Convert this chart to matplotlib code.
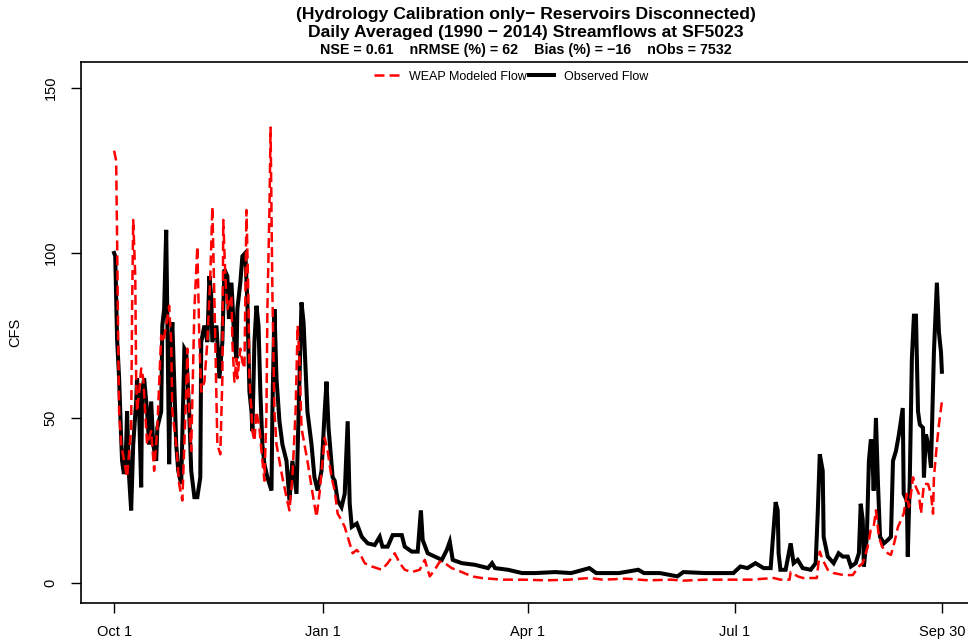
import matplotlib
matplotlib.use("Agg")
import matplotlib.pyplot as plt

plt.rcParams['font.family'] = ['Liberation Sans', 'DejaVu Sans']

# day of water year (0 = Oct 1) and daily averaged flow, CFS
obs_day = [0, 0.5, 1, 1.3, 2.2, 3.1, 3.5, 4.3, 5.3, 5.7, 6.6, 7.5, 8.4, 9.7, 10.1, 11, 11.9, 12.3,
           13.2, 14.5, 15.4, 16.3, 17.2, 18.5, 19, 20.7, 21.2, 22, 22.9, 23.4, 24.2, 25.1, 25.6,
           26.4, 27.3, 28.2, 29.5, 30.9, 31.7, 33, 33.9, 35.3, 36.6, 37.9, 38.3, 39.7, 41, 41.9,
           42.7, 43.2, 45, 46.3, 47.6, 48.5, 49.8, 50.5, 51.6, 52.9, 53.8, 54.2, 55.5, 56.4, 57.7,
           58.6, 59.5, 60.4, 60.8, 61.7, 62.6, 63.5, 64.3, 65.2, 66.1, 67.4, 69.2, 69.6, 70.5,
           71.4, 72.7, 74, 75.8, 77.1, 78.4, 80.2, 81.5, 82.4, 83.3, 84.2, 85, 86.8, 88.1, 89.5,
           91.2, 92.6, 93.4, 94.3, 96.1, 97, 98.3, 100, 101.4, 102.7, 103.6, 104.5, 106.7, 108.9,
           111.5, 114.6, 116.8, 118, 120.3, 122.5, 126.5, 127.8, 130.9, 133.5, 134.9, 135.7, 137.9,
           141, 144.1, 146.3, 147.6, 148.9, 152.9, 158.7, 164.4, 166.2, 167.5, 173.2, 179.4, 185.1,
           193.9, 201, 209, 212, 222, 230.5, 233, 240, 247.7, 250.3, 260, 272.3, 275.4, 278.5, 282,
           285.6, 288.7, 290.9, 291.8, 292.2, 293, 295.3, 297.5, 298.8, 300.6, 302.8, 306.3, 308.5,
           309.4, 310.3, 311.6, 312, 313.8, 315.1, 316.4, 318.6, 320.4, 322.6, 324, 326.1, 327.5,
           328.3, 329.2, 329.7, 331, 331.9, 332.7, 333.2, 334, 335, 335.9, 336.8, 338.5, 340.2,
           341.6, 342.5, 343.8, 345.1, 346.8, 347.2, 348.6, 349, 349.9, 350.8, 351.7, 352.6, 353.5,
           354.3, 355.7, 356.1, 357, 358.3, 359.2, 360.5, 361.8, 362.7, 363.6, 364]
obs_flow = [100, 99, 84, 74, 62, 44, 37, 33, 42, 52, 32, 22, 42, 55, 62, 52, 29, 58,
            62, 52, 42, 55, 42, 37, 47, 52, 78, 83, 107, 81, 36, 73, 79,
            62, 42, 34, 30, 71, 70, 52, 34, 26, 26, 32, 73, 78, 73, 93,
            87, 73, 78, 62, 73, 95, 93, 80, 91, 73, 68, 83, 91, 99, 100,
            85, 58, 52, 46, 73, 84, 78, 58, 42, 36, 32, 28, 52, 83,
            62, 49, 42, 37, 25, 37, 27, 62, 85, 79, 65, 52, 42, 32, 28,
            34, 52, 61, 47, 32, 31, 25, 23, 27, 49, 24, 17, 18, 14,
            12, 11.5, 14, 11, 11, 14.5, 14.5, 11, 9.5, 9.5, 22, 13, 9,
            8, 7, 10, 12.5, 7, 6, 5.5, 4.5, 6, 4.5, 4, 3, 3,
            3.3, 3, 4.5, 3, 3, 4, 3, 3, 2, 3.3, 3, 3, 5, 4.5, 6,
            4.5, 4.5, 24.5, 22, 9, 4, 4, 12, 6, 7, 4.5, 4, 6,
            21, 39, 34, 14, 8, 7, 6, 9, 8, 8, 5, 6, 9,
            24, 19, 5, 14, 37, 43, 43, 28, 50, 30, 14, 12, 13,
            14, 37, 40, 45, 53, 27, 25, 8, 32, 68, 81, 81, 52,
            48, 47, 32, 45, 41, 35, 70, 91, 76, 70, 64]

mod_day = [0, 0.9, 1.3, 1.8, 2.2, 3.1, 4.4, 5.7, 7.5, 7.9, 8.4, 9.3, 9.7, 10.1, 11, 11.9, 12.8,
           14.1, 14.5, 16.3, 17.6, 19, 20.7, 21.6, 22.9, 24.2, 25.1, 25.6, 27.3, 28.6, 30, 31.7,
           32.2, 33, 33.9, 35.3, 36.6, 37.5, 38.3, 39.7, 41, 42.3, 43.2, 44.5, 45.4, 46.7, 47.6,
           48, 48.9, 49.8, 51.6, 52, 52.9, 53.8, 54.2, 55.5, 56.4, 57.3, 58.2, 59, 59.5, 60.4,
           60.8, 61.7, 62.6, 63.9, 65.2, 66.1, 67, 67.4, 68.3, 68.8, 69.2, 69.6, 70.5, 71.4, 72.7,
           74, 75.8, 77.1, 78.4, 79.8, 80.7, 81.5, 82.4, 83.7, 85, 87.3, 89, 90.3, 92.6, 93.9,
           95.6, 97, 98.3, 100, 101.4, 102.7, 104.9, 106.7, 108, 110.2, 113.3, 117.7, 120.3, 123.4,
           125.6, 127.8, 130.9, 134.4, 136.6, 138.8, 141, 143.2, 145.4, 148.5, 152.9, 157.3, 161.7,
           170.6, 180, 190, 200, 209, 215, 225, 235, 245, 250, 260, 270, 280, 290, 293, 297,
           297.5, 300.6, 303, 309, 310.3, 311.6, 313.8, 316.4, 320.8, 324.8, 327.5, 329.2, 331.4,
           332.7, 334, 335, 336.3, 337.7, 340.2, 341.6, 343, 344.7, 346, 347.2, 348.6, 349.5,
           350.4, 351.3, 352.6, 353.9, 354.8, 356.1, 357.9, 359.2, 360.1, 360.5, 361.8, 362.7, 364]
mod_flow = [131, 128, 105, 73, 52, 42, 37, 32, 47, 83, 110, 93, 62, 52, 58, 65, 62,
            47, 42, 46, 34, 47, 75, 73, 78, 84, 73, 52, 42, 30, 25, 58,
            71, 52, 40, 83, 102, 73, 58, 61, 73, 93, 114, 73, 42, 39, 62,
            110, 93, 83, 87, 73, 61, 68, 62, 71, 67, 65, 113, 88, 62, 52,
            46, 43, 52, 47, 37, 31, 52, 83, 113, 138, 113, 88, 52, 42, 37,
            32, 26, 22, 32, 52, 78, 68, 47, 42, 37, 27, 20, 27, 44, 40,
            32, 28, 21, 19, 17, 14, 9, 10, 9, 6, 5, 4, 6, 9,
            6, 4, 3.3, 4, 7, 2, 4, 6.5, 6, 4.5, 3.3, 2, 1.5,
            1, 1, 0.8, 1, 1.5, 1, 1.3, 0.8, 1, 0.7, 1, 1, 1, 1.5, 1, 1,
            3.3, 2, 1.5, 1.5, 9.5, 7, 4, 3, 2.4, 2.4, 5, 6, 11,
            16, 17, 22, 14, 11, 9, 8.5, 12, 17, 19, 21, 27, 23,
            27, 32, 29, 27, 21, 30, 30, 27, 21, 32, 42, 48, 55]

tick_days = [0, 92, 182, 273, 364]
tick_labels = ["Oct 1", "Jan 1", "Apr 1", "Jul 1", "Sep 30"]

fig = plt.figure(figsize=(9.68, 6.43), dpi=100)
ax = fig.add_axes([81/968, 40/643, 894/968, 541/643])

ax.plot(obs_day, obs_flow, color="black", lw=2.9, solid_joinstyle="miter", label="Observed Flow")
ax.plot(mod_day, mod_flow, color="red", lw=1.8, dashes=(4, 2), label="WEAP Modeled Flow")

ax.set_xlim(-14.56, 378.56)
ax.set_ylim(-6.07, 157.87)
ax.set_xticks(tick_days)
ax.set_xticklabels(tick_labels)
ax.set_yticks([0, 50, 100, 150])
ax.set_yticklabels(["0", "50", "100", "150"], rotation=90, va="center")
ax.tick_params(direction="out", length=7, width=1, labelsize=10.5, pad=9)
ax.tick_params(axis="y", pad=10)
for s in ax.spines.values():
    s.set_linewidth(1.2)
ax.set_ylabel("CFS", fontsize=10.5, labelpad=15)

h, l = ax.get_legend_handles_labels()
ax.legend(h[::-1], l[::-1], loc="upper center", bbox_to_anchor=(0.481, 1.005), ncol=2,
          frameon=False, fontsize=9, handlelength=2.0, columnspacing=0.2, handletextpad=0.8)

fig.text(0.543, 0.9767, "(Hydrology Calibration only\u2212 Reservoirs Disconnected)",
         ha="center", va="center", fontsize=12.6, fontweight="bold")
fig.text(0.543, 0.9487, "Daily Averaged (1990 \u2212 2014) Streamflows at SF5023",
         ha="center", va="center", fontsize=12.6, fontweight="bold")
fig.text(0.543, 0.9215, "NSE = 0.61    nRMSE (%) = 62    Bias (%) = \u221216    nObs = 7532",
         ha="center", va="center", fontsize=10.3, fontweight="bold")

fig.savefig("out.png", dpi=100)
